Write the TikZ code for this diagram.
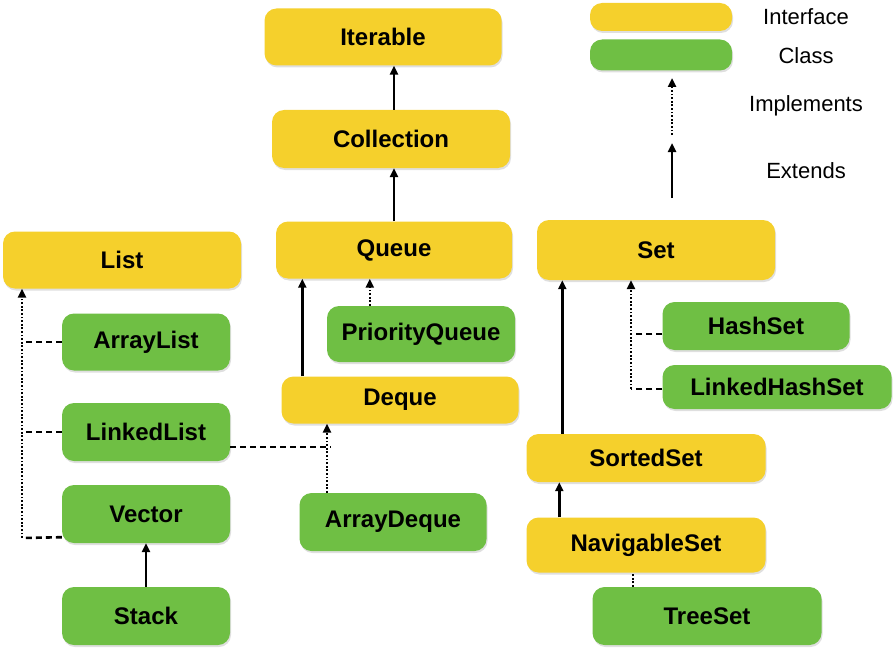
\documentclass[tikz,border=0pt]{standalone}
\usepackage{fontspec}
\setmainfont{Liberation Sans}
\usepackage{tikz}
\usetikzlibrary{arrows.meta,shadows}

\definecolor{ifyellow}{HTML}{F5D02C}
\definecolor{clgreen}{HTML}{6FBF44}

\begin{document}
\begin{tikzpicture}[x=1pt,y=-1pt]
    \tikzstyle{box}=[rectangle,rounded corners=12pt,inner sep=0pt,font=\bfseries\fontsize{24}{28}\selectfont,
        drop shadow={opacity=0.25,shadow xshift=1pt,shadow yshift=-2pt}]
    \tikzstyle{iface}=[box,fill=ifyellow]
    \tikzstyle{cls}=[box,fill=clgreen]
    \tikzstyle{legtext}=[font=\fontsize{22}{26}\selectfont]
    \tikzstyle{ext}=[line width=2.4pt,-{Triangle[length=9pt,width=8pt]}]
    \tikzstyle{impl}=[line width=2.4pt,dash pattern=on 1.8pt off 1.8pt,-{Triangle[length=9pt,width=8pt]}]
    \tikzstyle{link}=[line width=2.6pt,dash pattern=on 6pt off 4pt]
    \useasboundingbox (0,0) rectangle (896,650);
    % legend
    \node (legI) at (661,17) [iface,minimum width=142pt,minimum height=28pt] {};
    \node (legC) at (661,55) [cls,minimum width=142pt,minimum height=31pt] {};
    \node (legIt) at (806,17) [legtext] {Interface};
    \node (legCt) at (806,56) [legtext] {Class};
    \node (legImt) at (806,106) [legtext] {Implements};
    \node (legExt) at (806,171) [legtext] {Extends};
    \coordinate (legIm1) at (672,135);
    \coordinate (legIm2) at (672,78);
    \coordinate (legEx1) at (672,198);
    \coordinate (legEx2) at (672,143);
    % interfaces
    \node (Iterable) at (383,37) [iface,minimum width=237pt,minimum height=57pt] {Iterable};
    \node (Collection) at (391,139) [iface,minimum width=238pt,minimum height=58pt] {Collection};
    \node (Queue) at (394,250) [iface,minimum width=236pt,minimum height=57pt] {Queue};
    \node (List) at (122,260) [iface,minimum width=238pt,minimum height=57pt] {List};
    \node (Set) at (656,250) [iface,minimum width=238pt,minimum height=60pt] {Set};
    \node (Deque) at (400,400) [iface,minimum width=237pt,minimum height=47pt] {Deque};
    \node (SortedSet) at (646,458) [iface,minimum width=239pt,minimum height=48pt] {SortedSet};
    \node (NavigableSet) at (646,545) [iface,minimum width=239pt,minimum height=55pt] {NavigableSet};
    % classes
    \node (ArrayList) at (146,342) [cls,minimum width=168pt,minimum height=57pt] {ArrayList};
    \node (LinkedList) at (146,432) [cls,minimum width=168pt,minimum height=58pt] {LinkedList};
    \node (Vector) at (146,514) [cls,minimum width=168pt,minimum height=58pt] {Vector};
    \node (Stack) at (146,616) [cls,minimum width=168pt,minimum height=58pt] {Stack};
    \node (PriorityQueue) at (421,334) [cls,minimum width=188pt,minimum height=56pt] {PriorityQueue};
    \node (ArrayDeque) at (393,522) [cls,minimum width=187pt,minimum height=58pt] {ArrayDeque};
    \node (HashSet) at (756,326) [cls,minimum width=187pt,minimum height=48pt] {HashSet};
    \node (LinkedHashSet) at (777,387) [cls,minimum width=229pt,minimum height=44pt] {LinkedHashSet};
    \node (TreeSet) at (707,616) [cls,minimum width=229pt,minimum height=58pt] {TreeSet};
    \coordinate (lbus) at (22,538);
    \coordinate (dbus) at (327,447);
    \coordinate (sbus) at (631,389);
    % legend arrows
    \draw [impl] (legIm1) -- (legIm2);
    \draw [ext] (legEx1) -- (legEx2);
    % extends
    \draw [ext] (Collection.north -| Iterable.south) ++(11,0) coordinate (c1) (c1 |- Collection.north) -- (c1 |- Iterable.south);
    \draw [ext] (c1 |- Queue.north) -- (c1 |- Collection.south);
    \draw [ext] ([xshift=21pt]Deque.north west) -- ([xshift=21pt]Deque.north west |- Queue.south);
    \draw [ext] (Stack.north) -- (Vector.south);
    \draw [ext] ([xshift=36pt]SortedSet.north west) -- ([xshift=36pt]SortedSet.north west |- Set.south);
    \draw [ext] ([xshift=33pt]NavigableSet.north west) -- ([xshift=33pt]NavigableSet.north west |- SortedSet.south);
    % implements
    \draw [impl] ([xshift=43pt]PriorityQueue.north west) -- ([xshift=43pt]PriorityQueue.north west |- Queue.south);
    \draw [impl] (lbus) -- (lbus |- List.south);
    \draw [link] (ArrayList.west) -- (ArrayList.west -| lbus);
    \draw [link] (LinkedList.west) -- (LinkedList.west -| lbus);
    \draw [link] ([yshift=6pt]Vector.south west) -- (lbus);
    \draw [link] ([yshift=-15pt]LinkedList.east) -- ([xshift=4pt]dbus);
    \draw [impl] (ArrayDeque.north -| dbus) -- (Deque.south -| dbus);
    \draw [impl] (sbus) -- (sbus |- Set.south);
    \draw [link] ([yshift=-8pt]HashSet.west) -- ([yshift=-8pt]HashSet.west -| sbus);
    \draw [link] (LinkedHashSet.west |- sbus) -- (sbus);
    \draw [line width=2.4pt,dash pattern=on 1.8pt off 1.8pt] (TreeSet.north -| 633,0) -- (NavigableSet.south -| 633,0);
\end{tikzpicture}
\end{document}
